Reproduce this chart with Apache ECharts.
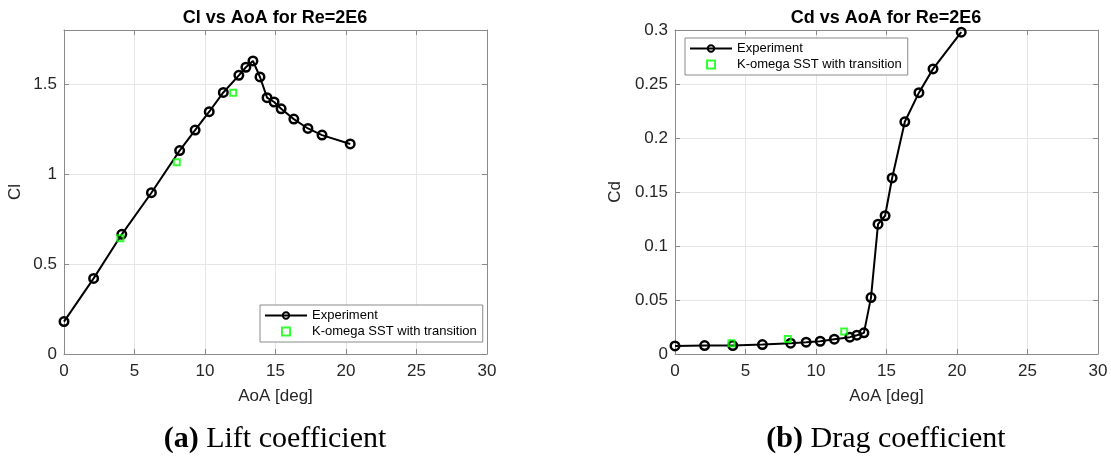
<!DOCTYPE html>
<html>
<head>
<meta charset="utf-8">
<script src="https://cdn.jsdelivr.net/npm/echarts@6/dist/echarts.min.js"></script>
<style>
  html, body { margin: 0; padding: 0; background: #fff; }
  #chart { width: 1111px; height: 458px; }
</style>
</head>
<body>
<div id="chart"></div>
<script>
// experiment (Re = 2E6)
var aoa = [0, 2.1, 4.1, 6.2, 8.2, 9.3, 10.3, 11.3, 12.4, 12.9, 13.4, 13.9, 14.4, 14.9, 15.4, 16.3, 17.3, 18.3, 20.3];
var clExp = [0.18, 0.42, 0.665, 0.896, 1.13, 1.244, 1.346, 1.453, 1.548, 1.593, 1.628, 1.539, 1.424, 1.40, 1.362, 1.305, 1.253, 1.216, 1.167];
var cdExp = [0.0075, 0.0078, 0.0078, 0.0087, 0.0100, 0.0109, 0.0118, 0.0137, 0.0156, 0.0174, 0.0196, 0.0522, 0.1202, 0.128, 0.163, 0.215, 0.242, 0.264, 0.298];
// K-omega SST with transition
var aoaCfd = [4, 8, 12];
var clCfd = [0.643, 1.065, 1.452];
var cdCfd = [0.010, 0.014, 0.0209];

function pairs(xs, ys) {
    return xs.map(function (x, i) { return [x, ys[i]]; });
}

var font = 'Liberation Sans, Arial, sans-serif';
var serif = 'Liberation Serif, serif';
var boxColor = '#8a8a8a';
var gridLineColor = '#e6e6e6';
var labelColor = '#262626';

function xAxisBottom(gridIndex) {
    return {
        gridIndex: gridIndex, type: 'value', position: 'bottom',
        min: 0, max: 30, interval: 5,
        name: 'AoA [deg]', nameLocation: 'middle', nameGap: 34,
        nameTextStyle: { fontFamily: font, fontSize: 17, color: labelColor },
        axisLine: { show: true, lineStyle: { color: boxColor } },
        axisTick: { show: true, inside: true, length: 5, lineStyle: { color: boxColor } },
        axisLabel: { fontFamily: font, fontSize: 17, color: labelColor, margin: 9 },
        splitLine: { show: true, lineStyle: { color: gridLineColor } }
    };
}
function xAxisTop(gridIndex) {
    return {
        gridIndex: gridIndex, type: 'value', position: 'top',
        min: 0, max: 30, interval: 5,
        axisLine: { show: true, onZero: false, lineStyle: { color: boxColor } },
        axisTick: { show: true, inside: true, length: 5, lineStyle: { color: boxColor } },
        axisLabel: { show: false },
        splitLine: { show: false }
    };
}
function yAxisLeft(gridIndex, max, interval, name) {
    return {
        gridIndex: gridIndex, type: 'value', position: 'left',
        min: 0, max: max, interval: interval,
        name: name, nameLocation: 'middle', nameGap: name === 'Cl' ? 40 : 51,
        nameTextStyle: { fontFamily: font, fontSize: 17, color: labelColor },
        axisLine: { show: true, onZero: false, lineStyle: { color: boxColor } },
        axisTick: { show: true, inside: true, length: 5, lineStyle: { color: boxColor } },
        axisLabel: {
            fontFamily: font, fontSize: 17, color: labelColor, margin: 7,
            formatter: function (v) {
                var k = v / interval;
                return Math.abs(k - Math.round(k)) < 1e-6 ? String(+v.toFixed(3)) : '';
            }
        },
        splitLine: { show: true, lineStyle: { color: gridLineColor } }
    };
}
function yAxisRight(gridIndex, max, interval) {
    return {
        gridIndex: gridIndex, type: 'value', position: 'right',
        min: 0, max: max, interval: interval,
        axisLine: { show: true, onZero: false, lineStyle: { color: boxColor } },
        axisTick: { show: true, inside: true, length: 5, lineStyle: { color: boxColor } },
        axisLabel: { show: false },
        splitLine: { show: false }
    };
}

function expSeries(x, y, data) {
    return {
        name: 'Experiment', type: 'line', xAxisIndex: x, yAxisIndex: y,
        data: data, clip: false,
        symbol: 'circle', symbolSize: 8.5,
        lineStyle: { color: '#000', width: 2 },
        itemStyle: { color: 'rgba(0,0,0,0)', borderColor: '#000', borderWidth: 2.5 },
        z: 3
    };
}
function cfdSeries(x, y, data) {
    return {
        name: 'K-omega SST with transition', type: 'scatter', xAxisIndex: x, yAxisIndex: y,
        data: data, clip: false,
        symbol: 'rect', symbolSize: 6,
        itemStyle: { color: 'rgba(0,0,0,0)', borderColor: '#00ff00', borderWidth: 2 },
        z: 4
    };
}

function legendAt(left, top) {
    return {
        left: left, top: top, orient: 'vertical',
        data: [
            { name: 'Experiment' },
            { name: 'K-omega SST with transition', icon: 'path://M0,0H6V6H0Z',
              itemStyle: { color: 'rgba(0,0,0,0)', borderColor: '#00ff00', borderWidth: 2 } }
        ],
        selectedMode: false,
        backgroundColor: '#fff', borderColor: boxColor, borderWidth: 1,
        padding: [4, 6, 4, 4], itemGap: 3, itemWidth: 42, itemHeight: 8,
        textStyle: { fontFamily: font, fontSize: 13, color: '#000' }
    };
}

function caption(letter, text, x) {
    return {
        text: '{b|(' + letter + ')} ' + text, left: x, top: 424, padding: 0, textAlign: 'center',
        textStyle: { fontFamily: serif, fontSize: 30, fontWeight: 'normal', color: '#000',
            rich: { b: { fontFamily: serif, fontSize: 30, fontWeight: 'bold', color: '#000' } } }
    };
}

var chart = echarts.init(document.getElementById('chart'));
chart.setOption({
    backgroundColor: '#fff',
    animation: false,
    title: [
        { text: 'Cl vs AoA for Re=2E6', left: 275, top: 9, padding: 0, textAlign: 'center',
          textStyle: { fontFamily: font, fontSize: 18, fontWeight: 'bold', color: '#000' } },
        { text: 'Cd vs AoA for Re=2E6', left: 886, top: 9, padding: 0, textAlign: 'center',
          textStyle: { fontFamily: font, fontSize: 18, fontWeight: 'bold', color: '#000' } },
        caption('a', 'Lift coefficient', 275),
        caption('b', 'Drag coefficient', 886)
    ],
    legend: [legendAt(260, 305), legendAt(685, 38)],
    grid: [
        { left: 64, top: 30, width: 423, height: 324 },
        { left: 675, top: 30, width: 423, height: 324 }
    ],
    xAxis: [xAxisBottom(0), xAxisTop(0), xAxisBottom(1), xAxisTop(1)],
    yAxis: [yAxisLeft(0, 1.8, 0.5, 'Cl'), yAxisRight(0, 1.8, 0.5),
            yAxisLeft(1, 0.3, 0.05, 'Cd'), yAxisRight(1, 0.3, 0.05)],
    series: [
        expSeries(0, 0, pairs(aoa, clExp)),
        cfdSeries(0, 0, pairs(aoaCfd, clCfd)),
        expSeries(2, 2, pairs(aoa, cdExp)),
        cfdSeries(2, 2, pairs(aoaCfd, cdCfd))
    ]
});
</script>
</body>
</html>
